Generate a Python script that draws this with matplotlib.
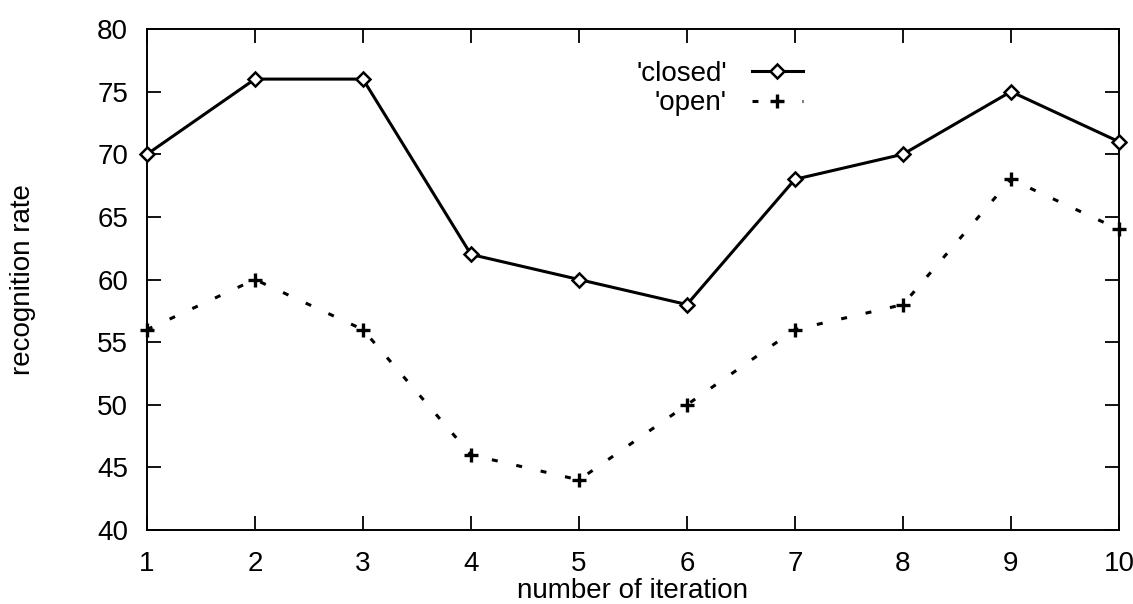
import matplotlib
matplotlib.use("Agg")
import matplotlib.pyplot as plt
import numpy as np

plt.rcParams['font.family'] = ['Liberation Sans', 'DejaVu Sans']
plt.rcParams['lines.scale_dashes'] = False

iteration = [1, 2, 3, 4, 5, 6, 7, 8, 9, 10]
closed = [70, 76, 76, 62, 60, 58, 68, 70, 75, 71]
opened = [56, 60, 56, 46, 44, 50, 56, 58, 68, 64]

fig = plt.figure(figsize=(11.33, 6.04), dpi=100)
ax = fig.add_axes([0.1297, 0.1225, 0.8579, 0.8295])

ax.plot(iteration, closed, color='black', linewidth=2.2, marker='D',
        markersize=7.5, markerfacecolor='white', markeredgewidth=1.8,
        label="'closed'", clip_on=False, zorder=3)
ax.plot(iteration, opened, color='black', linewidth=2.2, linestyle=(0, (4.3, 13.7)),
        marker='+', markersize=10, markeredgewidth=2.4,
        label="'open'", clip_on=False, zorder=3)

ax.set_xlim(1, 10)
ax.set_ylim(40, 80)
ax.set_xticks(np.arange(1, 11, 1))
ax.set_yticks(np.arange(40, 81, 5))
ax.tick_params(direction='in', length=10, width=1.3, labelsize=20,
               top=True, right=True)
ax.tick_params(axis='x', pad=15)
ax.tick_params(axis='y', pad=13.5)
for s in ax.spines.values():
    s.set_linewidth(1.4)

ax.set_xlabel("number of iteration", fontsize=20, labelpad=1)
ax.set_ylabel("recognition rate", fontsize=20, labelpad=44)

ax.legend(loc='upper right', bbox_to_anchor=(0.675, 0.936), frameon=False,
          markerfirst=False, fontsize=20, handlelength=1.85,
          handletextpad=0.9, labelspacing=0.12, borderpad=0, borderaxespad=0)

fig.savefig("out.png", dpi=100)
